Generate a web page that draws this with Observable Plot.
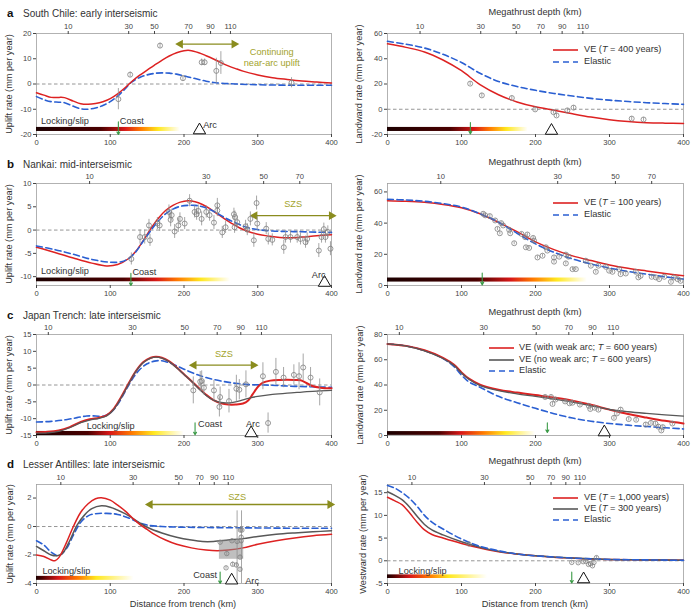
<!DOCTYPE html>
<html><head><meta charset="utf-8">
<script src="https://cdn.jsdelivr.net/npm/d3@7"></script>
<script src="https://cdn.jsdelivr.net/npm/@observablehq/plot@0.6"></script>
<style>
body{margin:0;background:#fff;font-family:"Liberation Sans",Arial,sans-serif;}
#fig{position:relative;width:693px;height:616px;overflow:hidden;background:#fff;}
.t{position:absolute;white-space:nowrap;color:#333;line-height:1;}
</style></head><body><div id="fig"></div>
<script>
// ---------- shared ticks ----------
const X_TICKS = [0, 100, 200, 300, 400];
const depthLabA = [10, 30, 50, 70, 90, 110];
const depthPosAL = [43, 125, 160, 206, 236, 263];
const depthPosAR = [44, 126, 174, 207, 236, 264];
const depthLabB = [10, 30, 50, 70];
const depthPosB = [72, 230, 308, 357];
const depthLabC = [10, 30, 50, 70, 90, 110];
const depthPosC = [16, 130, 201, 245, 277, 305];
const depthLabD = [10, 30, 50, 70, 90, 110];
const depthPosD = [33, 131, 193, 221, 241, 260];

// ---------- panel a ----------
const aLeftVE = [[0,-3.5],[10,-4.4],[20,-5.3],[30,-5.3],[38,-5.4],[50,-6.8],[60,-7.8],[70,-8],[80,-7.7],[90,-7],[100,-5.8],[110,-3.9],[120,-1.5],[130,1.2],[140,3.5],[150,5.5],[160,7.5],[170,9.4],[180,11.1],[190,12.4],[200,13.2],[208,13.3],[220,12.4],[230,11.2],[240,9.9],[250,8.5],[260,7.2],[270,6.1],[280,5.1],[300,3.6],[320,2.5],[340,1.8],[360,1.2],[380,0.8],[400,0.4]];
const aLeftEl = [[0,-5],[10,-6.2],[20,-7],[30,-7.2],[38,-7.4],[50,-8.8],[60,-9.8],[68,-10],[80,-9.5],[90,-8.5],[100,-7],[110,-4.8],[120,-2],[128,0.5],[140,2.6],[150,3.6],[160,4.2],[170,4.4],[180,4.3],[190,3.9],[200,3.2],[210,2.5],[220,1.8],[230,1.1],[240,0.6],[250,0.3],[270,0],[300,-0.3],[350,-0.5],[400,-0.5]];
const aLeftPts = [[111,-6,4.2],[127,3.7,1],[167.5,15.2,1],[198.6,2.3,1],[224,8.6,1.3],[228,8.6,1.3],[243.8,5.2,5],[250,8.3,4.5],[345.8,0.5,2]];
const aRightVE = [[0,51.8],[25,49],[50,45.4],[75,39],[100,30.5],[125,19.5],[150,11.5],[175,5.8],[200,1.9],[225,-0.8],[250,-3.6],[275,-6.2],[300,-8.3],[325,-9.7],[350,-10.6],[375,-11],[400,-11.2]];
const aRightEl = [[0,53.8],[25,51.5],[50,48.5],[75,43.5],[100,37],[125,28.5],[150,22],[175,18],[200,15],[225,12.5],[250,10.5],[275,8.6],[300,7.2],[325,6.1],[350,5.2],[375,4.5],[400,3.9]];
const aRightPts = [[111.7,20.3,1.5],[127.5,11,1.5],[168,8.9,1.5],[199.5,-0.1,1.5],[224.3,-2.3,1.5],[228.4,-4.9,1.5],[243,-0.9,1.5],[251.4,1.3,1.5],[330,-7.4,1.5],[346,-8.1,1.5]];

// ---------- panel b ----------
const bLeftVE = [[0,-3.7],[25,-4.8],[50,-6],[75,-7.1],[95,-7.7],[110,-7.4],[125,-6.1],[135,-4.5],[145,-2.2],[155,0.3],[165,2.5],[175,4.2],[185,5.3],[195,6],[205,6.3],[215,6.1],[225,5.5],[235,4.6],[245,3.5],[255,2.4],[265,1.4],[275,0.5],[285,-0.2],[300,-0.9],[315,-1.3],[330,-1.6],[345,-1.65],[360,-1.5],[380,-1.2],[400,-1]];
const bLeftEl = [[0,-3.4],[25,-4.2],[50,-5.2],[75,-6.3],[100,-6.9],[115,-6.8],[125,-6.1],[135,-4.6],[145,-2.3],[155,-0.1],[165,1.9],[175,3.5],[185,4.5],[195,5.1],[205,5.3],[215,5.3],[225,5],[235,4.4],[245,3.6],[255,2.7],[265,1.9],[275,1.2],[285,0.6],[300,0.1],[320,-0.2],[340,-0.3],[360,-0.35],[380,-0.45],[400,-0.5]];
const bLeftPts = [[128.6,-6.2,1.3],[140.4,-1.5,1.5],[146.7,-1.5,1.5],[152.5,1,1.3],[153.9,-2.2,1.3],[163.9,1.4,1.3],[167,1,1.3],[179.6,3.9,1.5],[181.9,2.2,1.5],[183.3,3.2,1.3],[187.3,-0.3,1.5],[192.3,1,1.5],[194.5,2.4,1.3],[200.9,1.4,1.3],[207.6,6.3,1.3],[214.4,3.9,1.3],[217.1,3.4,1.3],[219.4,4.1,1.3],[223.9,2.4,1.5],[230.2,3.9,1.3],[234.7,3.2,1.3],[240.6,1.6,1.5],[245.2,5.3,1.5],[245.2,4.2,1.3],[251.9,-0.5,1.3],[256.4,0.6,1.3],[267.7,3.4,1.3],[269,2.8,1.3],[268.6,0.6,1.3],[272.2,1.7,1.3],[283.5,0.8,1.3],[285.8,0.1,1.3],[290,2.4,1.5],[294.7,-2.2,1.5],[298.4,5.8,1.5],[299.3,1.4,1.5],[311.5,0.3,1.3],[314.3,-1.9,1.3],[319.7,-2.1,1.3],[335.3,-3.7,1.5],[337.7,-1.5,1.3],[344.4,-1.5,1.3],[353.5,-1.5,1.3],[358,-1.9,1.3],[364.8,-2.6,1.3],[367,-1.9,1.3],[382.8,-4.4,1.5],[386.5,-1.5,1.3],[389.6,0.2,1.3],[391.8,-1.5,1.3],[395,-0.4,1.3],[398.6,-4,1.5]];
const bRightVE = [[0,54.4],[25,54],[50,53.3],[75,52],[100,49.8],[125,46],[150,40.5],[175,34.5],[200,28],[225,23],[250,19],[275,16],[300,13.2],[325,11],[350,9.3],[375,7.7],[400,6.3]];
const bRightEl = [[0,55.3],[25,54.8],[50,54],[75,52.5],[100,50.3],[125,46],[150,40.6],[175,33.5],[200,26.7],[225,21.3],[250,17],[275,13.8],[300,11.2],[325,9],[350,7.3],[375,5.6],[400,4.1]];
const bRightPts = [[129.3,46,1],[132,45,1],[138.3,44.5,1],[145.5,41.7,1],[148.6,36.3,1],[151.8,33.5,1],[153.6,40,1],[156.3,38.5,1],[164.4,35.7,1],[165.8,33.5,1],[171.2,27.1,1],[181,33.1,1],[186,31,1],[187,24.5,1],[189,32.7,1],[191.4,24.1,1],[196.8,30.5,1],[198,28.8,1],[202.7,18,1],[209.5,19.1,1],[214,24.5,1],[216,22.4,1],[225,18,1],[225,15.3,1],[232,18.5,1],[241,19.8,1],[241,14.2,1],[244.6,18.5,1],[250,10.5,1],[254.5,10.5,1],[268,15.9,1],[274.8,12.7,1],[281.5,8.8,1],[285,12.7,1],[295,12,1],[299.5,9.5,1],[304,8.8,1],[313,10.5,1],[315,7.3,1],[322,7.7,1],[335.6,8.8,1],[339,5.2,1],[342,6.2,1],[357,5.6,1],[362.6,5.2,1],[367,4.1,1],[374,5.6,1],[383,2.4,1],[387,5.2,1],[392,4.1,1],[396,3,1]];

// ---------- panel c ----------
const cLeftVE = [[0,-14],[15,-13.9],[30,-13.5],[45,-12.5],[60,-11],[72,-10.2],[85,-9.7],[95,-9],[105,-7],[115,-3.5],[125,0.5],[135,4.2],[145,6.8],[155,8.1],[162,8.4],[170,8.1],[180,7],[190,5.2],[200,3.2],[210,1.2],[220,-0.9],[230,-2.9],[240,-4.5],[250,-5.4],[260,-5.8],[270,-5.8],[280,-5.5],[287,-4.6],[293,-2.8],[300,-0.6],[307,0.7],[317,1.3],[330,1.5],[350,1.5],[358,1.4],[366,0.6],[374,-0.3],[385,-0.8],[400,-1]];
const cLeftNoArc = [[0,-14.3],[15,-14.2],[30,-13.8],[45,-12.7],[60,-11.2],[72,-10.4],[85,-9.9],[95,-9.2],[105,-7.2],[115,-3.7],[125,0.3],[135,4.1],[145,6.7],[155,8],[162,8.3],[170,8],[180,6.9],[190,5.1],[200,3.1],[210,1.1],[220,-1.1],[230,-3.1],[240,-4.5],[250,-5.2],[260,-5.3],[270,-5],[280,-4.4],[290,-3.8],[300,-3.4],[320,-2.8],[340,-2.4],[360,-2.1],[380,-1.8],[400,-1.6]];
const cLeftEl = [[0,-11],[20,-10.8],[40,-10.3],[55,-9.7],[68,-9.2],[80,-9.2],[90,-9.3],[100,-8.3],[110,-5.8],[120,-2],[130,1.8],[140,4.6],[150,6.3],[160,7.1],[170,7.2],[180,6.6],[190,5.7],[200,4.7],[215,3.3],[230,2.2],[250,1.2],[270,0.5],[290,0.1],[310,0],[330,-0.2],[350,-0.4],[370,-0.5],[385,-0.6],[400,-0.7]];
const cLeftPts = [[212.6,-1.6,4],[222,1,3],[224,1.2,3],[227,-0.8,2.2],[240.6,-1.6,3],[249,-3.6,3],[248,-6.5,3],[261,-4.8,3.5],[271,-1.1,4],[275,-1.4,3],[284,0.2,4],[307,2.6,4],[314,-11.3,3],[324.6,3.9,4],[335,2.2,3],[349,3,3],[356,2.6,4],[361.6,5.2,4],[371.6,2.2,3],[384,-2.2,4]];
const cRightVE = [[0,72.5],[25,71],[50,67.5],[75,61.5],[90,56],[100,50],[110,45],[125,40.3],[150,36.3],[175,34],[200,32],[225,30],[250,27.6],[275,24.3],[300,20.5],[325,17],[350,14.2],[375,11.6],[400,9.5]];
const cRightNoArc = [[0,72.5],[25,70.8],[50,67],[75,61],[90,55.5],[100,49.5],[110,44.5],[125,39.5],[150,35.5],[175,33],[200,31],[225,28.8],[250,26.5],[275,23.5],[300,20.6],[325,18.8],[350,17.5],[375,16.4],[400,15.4]];
const cRightEl = [[0,72.5],[25,71],[50,67.2],[75,61],[90,54.5],[100,47.8],[110,42.5],[125,38.2],[150,31],[175,26],[200,21.5],[225,17.3],[250,13.8],[275,11.3],[300,9.5],[325,8.2],[350,7.1],[375,6.1],[400,5.2]];
const cRightPts = [[213,30.5,1.5],[221,30.5,1.5],[223,25,1.5],[227,28.5,1.5],[240,27,1.5],[246,25.5,1.5],[250,26,1.5],[260,24.5,1.5],[272,23.5,1.5],[274,21,1.5],[280,22,1.5],[285,20.5,1.5],[306,14,1.5],[310,17.5,1.5],[315,20.5,1.5],[326,13,1.5],[336,12.5,1.5],[349,8.7,1.5],[356,10,1.5],[362,9.5,1.5],[366,7,1.5],[370,4,1.5],[372,6.6,1.5],[385,9.5,1.5]];

// ---------- panel d ----------
const dLeftVE1000 = [[0,-2],[10,-2.1],[20,-2.35],[25,-2.4],[30,-2.2],[40,-1.2],[50,0],[60,1],[70,1.6],[80,1.95],[88,2.02],[100,1.85],[110,1.5],[120,1.1],[130,0.6],[140,0.15],[150,-0.2],[160,-0.55],[175,-0.95],[190,-1.25],[210,-1.5],[230,-1.65],[245,-1.7],[260,-1.65],[280,-1.5],[300,-1.25],[325,-1],[350,-0.8],[375,-0.65],[400,-0.55]];
const dLeftVE300 = [[0,-1.4],[10,-1.7],[20,-2],[28,-2.05],[35,-1.9],[45,-1],[55,0.1],[65,0.8],[75,1.25],[88,1.45],[100,1.35],[120,0.9],[140,0.25],[150,-0.05],[170,-0.45],[190,-0.75],[210,-0.95],[225,-1.05],[240,-1.05],[260,-0.95],[280,-0.85],[300,-0.7],[325,-0.55],[350,-0.45],[375,-0.37],[400,-0.3]];
const dLeftEl = [[0,-1],[10,-1.3],[20,-1.8],[30,-2.05],[40,-1.6],[50,-0.6],[60,0.3],[70,0.75],[80,0.9],[95,0.92],[110,0.85],[125,0.6],[140,0.25],[150,0.1],[170,0],[200,-0.05],[250,-0.08],[300,-0.1],[350,-0.12],[400,-0.12]];
const dLeftPts = [[249,-1.1,0.12],[258,-1.9,0.15],[265,-1,0.12],[257,-2.9,0.1],[266,-2.65,0.15],[271,-2.7,0.15],[272,-1.05,0.15],[276,-2.15,0.15],[276,-3.0,0.15],[276.5,-0.25,0.15],[278.5,-0.25,0.15],[277.5,-0.75,0.15],[277.5,-1.0,0.15]];
const dLeftShade = [248, 281, -1.0, -2.3];
const dLeftBars = [[272, 1.1, -4], [278, 1.1, -4]];
const dRightVE1000 = [[0,14],[10,13.2],[20,12.3],[30,10.5],[40,8.5],[50,6.8],[60,5.8],[75,5],[100,3.8],[125,2.8],[150,2],[175,1.5],[200,1.1],[225,0.8],[250,0.6],[275,0.4],[300,0.3],[350,0.2],[400,0.1]];
const dRightVE300 = [[0,15.2],[10,14.4],[20,13.4],[30,11.8],[40,9.8],[50,8],[60,6.8],[75,5.7],[100,4.2],[125,3],[150,2.1],[175,1.5],[200,1.1],[250,0.6],[300,0.3],[350,0.2],[400,0.1]];
const dRightEl = [[0,16.6],[10,16],[20,15],[30,13.7],[40,12],[50,10],[60,8.5],[75,7],[100,4.8],[125,3.2],[150,2.2],[175,1.5],[200,1.1],[250,0.6],[300,0.3],[350,0.2],[400,0.1]];
const dRightPts = [[110,3.7,0.3],[249,-0.36,0.3],[257.7,-0.43,0.3],[264.4,-0.2,0.3],[268,-0.1,0.3],[271.6,-0.8,0.3],[274,-0.6,0.3],[277,-1.1,0.3],[279,-0.36,0.3],[282.4,0.7,0.3]];

// ---------- locking/slip gradient ----------
const gradOffsetsAB = [0, 0.45, 0.62, 0.73, 0.85, 1];
const gradOffsetsC = [0, 0.35, 0.5, 0.65, 0.8, 1];
const gradOffsetsD = [0, 0.06, 0.23, 0.43, 0.62, 1];
const gradColors = ["#1c0000", "#4a0000", "#d81818", "#ff7a00", "#ffe820", "#ffffff"];

// ---------- style ----------
const RED = "#dd2222", BLUE = "#2a5fd2", GRAY = "#585858", OLIVE = "#8a8c1e", OLIVE_T = "#a3a32c", GREEN = "#3a9a46";
const FONT = '"Liberation Sans", Arial, sans-serif';
const fig = document.getElementById("fig");
const NS = "http://www.w3.org/2000/svg";

function makePanel(p) {
  const m = [];
  m.push(Plot.frame({stroke: "#a0a0a0", strokeWidth: 0.8}));
  if (p.zero) m.push(Plot.ruleY([0], {stroke: "#8a8a8a", strokeWidth: 0.9, strokeDasharray: "3.5,2.5"}));
  m.push(Plot.rect([p.bar], {x1: d => 0, x2: d => d.end, y1: d => d.y - d.h, y2: d => d.y + d.h, fill: `url(#${p.id}-grad)`}));
  if (p.olive) {
    m.push(Plot.ruleY([p.olive], {y: d => d.y, x1: d => d.x1 + 2, x2: d => d.x2 - 2, stroke: OLIVE, strokeWidth: 1.4}));
    m.push(Plot.dot([{x: p.olive.x1, y: p.olive.y, rot: -90}, {x: p.olive.x2, y: p.olive.y, rot: 90}],
      {x: "x", y: "y", rotate: "rot", symbol: "triangle", r: 3.3, fill: OLIVE, stroke: "none"}));
  }
  if (p.oliveText) m.push(Plot.text([p.oliveText], {x: "x", y: "y", text: "t", fill: OLIVE_T, fontSize: 9.2, lineHeight: 1.15, textAnchor: "middle"}));
  for (const s of p.series) {
    m.push(Plot.line(s.data, {x: d => d[0], y: d => d[1], curve: "catmull-rom", stroke: s.color,
      strokeWidth: s.w || 1.5, strokeDasharray: s.dash}));
  }
  if (p.shade) m.push(Plot.rect([p.shade], {x1: d => d[0], x2: d => d[1], y1: d => d[2], y2: d => d[3], fill: "#8a8a8a", fillOpacity: 0.55}));
  if (p.bars) m.push(Plot.ruleX(p.bars, {x: d => d[0], y1: d => d[1], y2: d => d[2], stroke: "#8f8f8f", strokeWidth: 0.8}));
  if (p.pts) {
    m.push(Plot.ruleX(p.pts, {x: d => d[0], y1: d => d[1] - d[2], y2: d => d[1] + d[2], stroke: "#8f8f8f", strokeWidth: 0.8}));
    m.push(Plot.dot(p.pts, {x: d => d[0], y: d => d[1], r: p.r || 2.5, stroke: "#7f7f7f", strokeWidth: 0.8, fill: "none"}));
  }
  if (p.coast) m.push(Plot.arrow([p.coast], {x1: d => d.x, x2: d => d.x, y1: d => d.y1, y2: d => d.y2, stroke: GREEN, strokeWidth: 1.1, headLength: 4}));
  if (p.arc) m.push(Plot.dot([p.arc], {x: "x", y: "y", symbol: "triangle", r: 4.6, stroke: "#111", fill: "#fff", strokeWidth: 1}));
  for (const t of (p.texts || [])) {
    m.push(Plot.text([t], {x: "x", y: "y", text: "t", fill: "#333", fontSize: 9.2, textAnchor: t.a || "start"}));
  }
  const lab = new Map(p.depth[0].map((v, i) => [v, p.depth[1][i]]));
  m.push(Plot.axisX({anchor: "top", ticks: p.depth[0], tickFormat: d => String(lab.get(d)), tickSize: 3, tickPadding: 2, label: null}));
  m.push(Plot.axisX({anchor: "bottom", ticks: X_TICKS, tickSize: 3, tickPadding: 2, label: null}));
  m.push(Plot.axisY({anchor: "left", ticks: p.yTicks, tickSize: 3, tickPadding: 2, label: null, tickFormat: d => String(d)}));

  const svg = Plot.plot({
    width: p.width, height: p.height,
    marginTop: p.mt, marginBottom: p.mb, marginLeft: p.ml, marginRight: p.mr,
    x: {domain: [0, 400]}, y: {domain: p.y},
    style: {fontFamily: FONT, fontSize: "7.6px", color: "#444", background: "transparent", overflow: "visible"},
    marks: m
  });
  const defs = document.createElementNS(NS, "defs");
  const lg = document.createElementNS(NS, "linearGradient");
  lg.setAttribute("id", p.id + "-grad");
  lg.setAttribute("x1", "0"); lg.setAttribute("y1", "0"); lg.setAttribute("x2", "1"); lg.setAttribute("y2", "0");
  p.gradOffsets.forEach((o, i) => {
    const s = document.createElementNS(NS, "stop");
    s.setAttribute("offset", o); s.setAttribute("stop-color", gradColors[i]);
    lg.appendChild(s);
  });
  defs.appendChild(lg);
  svg.insertBefore(defs, svg.firstChild);
  const wrap = document.createElement("div");
  wrap.style.cssText = `position:absolute;left:${p.left}px;top:${p.top}px;width:${p.width}px;height:${p.height}px;`;
  wrap.appendChild(svg);
  fig.appendChild(wrap);
}

function txt(html, x, y, o = {}) {
  const d = document.createElement("div");
  d.className = "t";
  d.innerHTML = html;
  const tx = o.anchor === "middle" ? "-50%" : "0";
  d.style.cssText += `left:${x}px;top:${y}px;font-size:${o.size || 9.2}px;` +
    `transform:translate(${tx},-50%)${o.rotate ? " rotate(-90deg)" : ""};` +
    (o.color ? `color:${o.color};` : "") + (o.bold ? "font-weight:bold;" : "");
  if (o.rotate) d.style.transform = "translate(-50%,-50%) rotate(-90deg)";
  fig.appendChild(d);
}

function legend(x, xt, items) {
  for (const it of items) {
    const s = document.createElementNS(NS, "svg");
    s.setAttribute("width", 26); s.setAttribute("height", 6);
    s.style.cssText = `position:absolute;left:${x}px;top:${it.y - 3}px;`;
    const l = document.createElementNS(NS, "line");
    l.setAttribute("x1", 0); l.setAttribute("x2", 25); l.setAttribute("y1", 3); l.setAttribute("y2", 3);
    l.setAttribute("stroke", it.color); l.setAttribute("stroke-width", it.dash ? 1.7 : 1.6);
    if (it.dash) l.setAttribute("stroke-dasharray", it.dash);
    s.appendChild(l);
    fig.appendChild(s);
    txt(it.html, xt, it.y, {size: 9.2});
  }
}

const L = {left: 0, width: 340, ml: 36, mr: 9};
const R = {left: 345, width: 348, ml: 42, mr: 10};
const A = {top: 0, height: 150, mt: 33, mb: 16};
const B = {top: 150, height: 150, mt: 33, mb: 15};
const C = {top: 300, height: 150, mt: 34, mb: 15};
const D = {top: 455, height: 161, mt: 29, mb: 33};
const DASH = "6,3.5";

makePanel({id: "aL", ...L, ...A, y: [-20, 20], yTicks: [-20, -10, 0, 10, 20], depth: [depthPosAL, depthLabA], zero: true,
  bar: {end: 195, y: -18, h: 0.8}, gradOffsets: gradOffsetsAB,
  series: [{data: aLeftEl, color: BLUE, dash: DASH, w: 1.6}, {data: aLeftVE, color: RED}],
  pts: aLeftPts, coast: {x: 111, y1: -15, y2: -20}, arc: {x: 221, y: -18.3},
  texts: [{x: 6, y: -14.8, t: "Locking/slip"}, {x: 113, y: -14.8, t: "Coast"}, {x: 226, y: -16.2, t: "Arc"}],
  olive: {x1: 195, x2: 268, y: 15.8}, oliveText: {x: 319, y: 10.6, t: "Continuing\nnear-arc uplift"}});

makePanel({id: "aR", ...R, ...A, y: [-20, 60], yTicks: [-20, 0, 20, 40, 60], depth: [depthPosAR, depthLabA], zero: true,
  bar: {end: 190, y: -16, h: 1.6}, gradOffsets: gradOffsetsAB,
  series: [{data: aRightEl, color: BLUE, dash: DASH, w: 1.6}, {data: aRightVE, color: RED}],
  pts: aRightPts, coast: {x: 112, y1: -10.5, y2: -19.5}, arc: {x: 221.6, y: -17}});

makePanel({id: "bL", ...L, ...B, y: [-11.9, 10], yTicks: [-10, -5, 0, 5, 10], depth: [depthPosB, depthLabB], zero: true,
  bar: {end: 263, y: -10.7, h: 0.4}, gradOffsets: gradOffsetsAB,
  series: [{data: bLeftVE, color: RED}, {data: bLeftEl, color: BLUE, dash: DASH, w: 1.6}],
  pts: bLeftPts, coast: {x: 128, y1: -9.3, y2: -11.9}, arc: {x: 390.5, y: -11.3},
  texts: [{x: 6, y: -8.9, t: "Locking/slip"}, {x: 130, y: -9.1, t: "Coast"}, {x: 392, y: -9.6, t: "Arc", a: "end"}],
  olive: {x1: 296, x2: 400, y: 3.1}, oliveText: {x: 348, y: 5.6, t: "SZS"}});

makePanel({id: "bR", ...R, ...B, y: [0, 65.4], yTicks: [0, 20, 40, 60], depth: [depthPosB, depthLabB], zero: false,
  bar: {end: 270, y: 3.5, h: 1.3}, gradOffsets: gradOffsetsAB,
  series: [{data: bRightVE, color: RED}, {data: bRightEl, color: BLUE, dash: DASH, w: 1.6}],
  pts: bRightPts, coast: {x: 128, y1: 8, y2: 0.4}});

makePanel({id: "cL", ...L, ...C, y: [-15, 15], yTicks: [-15, -10, -5, 0, 5, 10, 15], depth: [depthPosC, depthLabC], zero: true,
  bar: {end: 200, y: -14.4, h: 0.6}, gradOffsets: gradOffsetsC,
  series: [{data: cLeftEl, color: BLUE, dash: DASH, w: 1.6}, {data: cLeftVE, color: RED, w: 2}, {data: cLeftNoArc, color: GRAY, w: 1.3}],
  pts: cLeftPts, coast: {x: 215, y1: -11.2, y2: -14.8}, arc: {x: 291, y: -14.3},
  texts: [{x: 68, y: -12.3, t: "Locking/slip"}, {x: 219, y: -11.5, t: "Coast"}, {x: 284, y: -11.7, t: "Arc"}],
  olive: {x1: 213.5, x2: 294, y: 5.9}, oliveText: {x: 254, y: 9.3, t: "SZS"}});

makePanel({id: "cR", ...R, ...C, y: [0, 80], yTicks: [0, 20, 40, 60, 80], depth: [depthPosC, depthLabC], zero: false,
  bar: {end: 200, y: 1.6, h: 1.5}, gradOffsets: gradOffsetsC,
  series: [{data: cRightEl, color: BLUE, dash: DASH, w: 1.6}, {data: cRightVE, color: RED, w: 2}, {data: cRightNoArc, color: GRAY, w: 1.3}],
  pts: cRightPts, coast: {x: 216, y1: 10, y2: 2.4}, arc: {x: 293, y: 2.6}});

makePanel({id: "dL", ...L, ...D, y: [-4, 2.95], yTicks: [-4, -2, 0, 2], depth: [depthPosD, depthLabD], zero: true,
  bar: {end: 132, y: -3.64, h: 0.14}, gradOffsets: gradOffsetsD,
  series: [{data: dLeftEl, color: BLUE, dash: DASH, w: 1.6}, {data: dLeftVE300, color: GRAY}, {data: dLeftVE1000, color: RED}],
  shade: dLeftShade, bars: dLeftBars, pts: dLeftPts, r: 2.2,
  coast: {x: 249, y1: -3.2, y2: -4}, arc: {x: 264.6, y: -3.78},
  texts: [{x: 8, y: -3.12, t: "Locking/slip"}, {x: 245, y: -3.4, t: "Coast", a: "end"}, {x: 283, y: -3.82, t: "Arc"}],
  olive: {x1: 154, x2: 398, y: 1.55}, oliveText: {x: 272, y: 2.07, t: "SZS"}});

makePanel({id: "dR", ...R, ...D, y: [-5, 16.8], yTicks: [-5, 0, 5, 10, 15], depth: [depthPosD, depthLabD], zero: true,
  bar: {end: 135, y: -3.5, h: 0.4}, gradOffsets: gradOffsetsD,
  series: [{data: dRightVE1000, color: RED}, {data: dRightVE300, color: GRAY}, {data: dRightEl, color: BLUE, dash: DASH, w: 1.6}],
  pts: dRightPts, r: 2.2, coast: {x: 249, y1: -2.5, y2: -4.9}, arc: {x: 265, y: -4.05},
  texts: [{x: 15, y: -2.2, t: "Locking/slip"}]});

// ---------- titles and labels ----------
const titles = [["a", "South Chile: early interseismic", 14], ["b", "Nankai: mid-interseismic", 165], ["c", "Japan Trench: late interseismic", 315.5], ["d", "Lesser Antilles: late interseismic", 465]];
for (const [k, t, y] of titles) {
  txt(k, 7, y, {size: 11.5, bold: true, color: "#111"});
  txt(t, 23, y, {size: 10, color: "#333"});
}
for (const y of [13.3, 163.3, 313.3, 462]) txt("Megathrust depth (km)", 535, y, {anchor: "middle", size: 9.25});
txt("Distance from trench (km)", 183, 605, {anchor: "middle", size: 9.25});
txt("Distance from trench (km)", 535, 605, {anchor: "middle", size: 9.25});
const yLabels = [["Uplift rate (mm per year)", 10, 83.5], ["Landward rate (mm per year)", 360, 83.5],
  ["Uplift rate (mm per year)", 10, 234], ["Landward rate (mm per year)", 360, 234],
  ["Uplift rate (mm per year)", 10, 384.5], ["Landward rate (mm per year)", 361, 384.5],
  ["Uplift rate (mm per year)", 10.5, 533.5], ["Westward rate (mm per year)", 364, 533.5]];
for (const [t, x, y] of yLabels) txt(t, x, y, {rotate: true, size: 9.2});

legend(553, 584, [{y: 50, color: RED, html: "VE (<i>T</i> = 400 years)"}, {y: 62, color: BLUE, dash: "6,4", html: "Elastic"}]);
legend(553, 584, [{y: 202.7, color: RED, html: "VE (<i>T</i> = 100 years)"}, {y: 215, color: BLUE, dash: "6,4", html: "Elastic"}]);
legend(489, 519, [{y: 347.7, color: RED, html: "VE (with weak arc; <i>T</i> = 600 years)"}, {y: 360.3, color: GRAY, html: "VE (no weak arc; <i>T</i> = 600 years)"}, {y: 371.3, color: BLUE, dash: "6,4", html: "Elastic"}]);
legend(553, 584, [{y: 498, color: RED, html: "VE (<i>T</i> = 1,000 years)"}, {y: 509, color: GRAY, html: "VE (<i>T</i> = 300 years)"}, {y: 520, color: BLUE, dash: "6,4", html: "Elastic"}]);
</script></body></html>
